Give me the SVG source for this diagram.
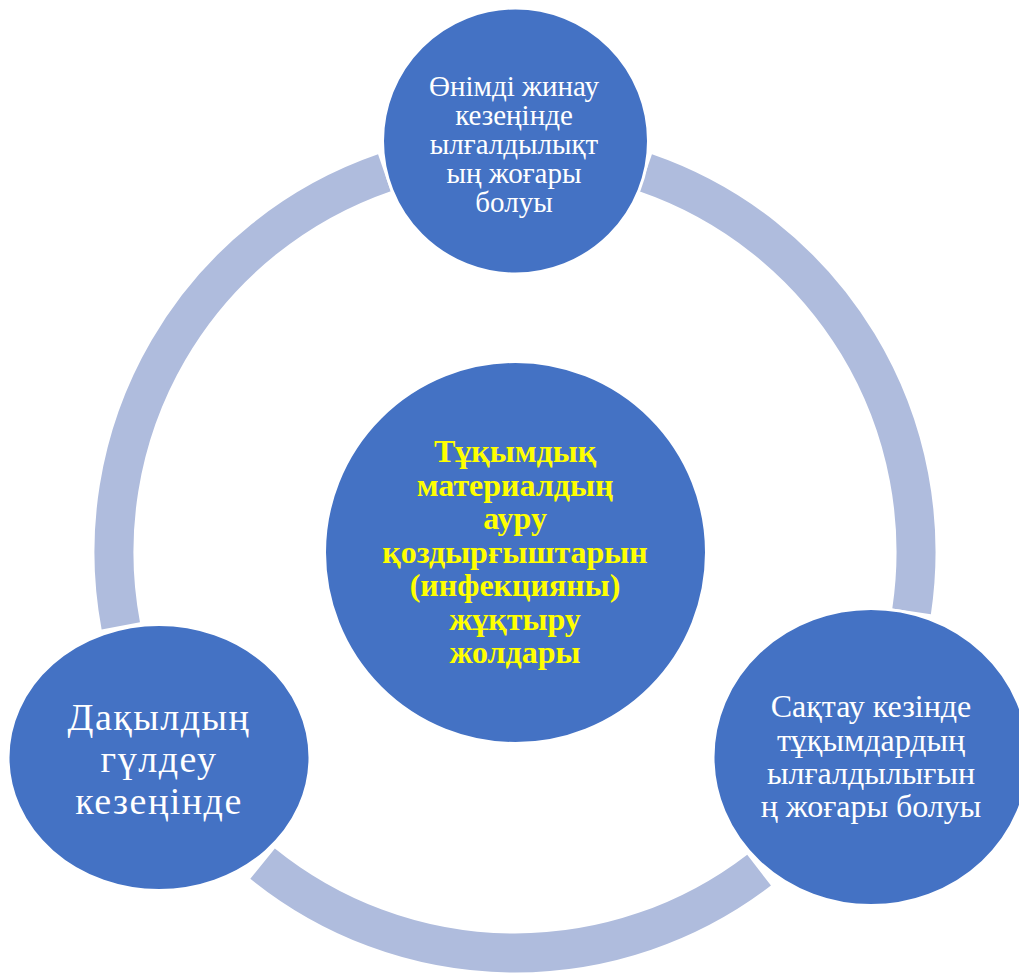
<svg xmlns="http://www.w3.org/2000/svg" width="1019" height="973" viewBox="0 0 1019 973">
<style>
.ring{fill:none;stroke:#AFBCDD;stroke-width:39;stroke-linecap:butt}
.node{fill:#4472C4;stroke:#FFFFFF;stroke-width:3}
.t{font-family:"Liberation Serif","Times New Roman",serif;fill:#FFFFFF;text-anchor:middle}
.c{font-family:"Liberation Serif","Times New Roman",serif;fill:#FFFF00;font-weight:bold;text-anchor:middle;font-size:32px}
</style>
<rect width="1019" height="973" fill="#FFFFFF"/>
<g id="connectors">
<path class="ring" d="M 120.8 625.8 A 401 401 0 0 1 384.4 172.8"/>
<path class="ring" d="M 645.6 172.8 A 401 401 0 0 1 911.6 611.3"/>
<path class="ring" d="M 759.1 870.1 A 401 401 0 0 1 262.6 863.6"/>
</g>
<g id="center">
<circle class="node" cx="515.5" cy="552.5" r="191"/>
<text class="c"><tspan x="515" y="462">Тұқымдық</tspan><tspan x="515" y="496">материалдың</tspan><tspan x="515" y="529">ауру</tspan><tspan x="515" y="563">қоздырғыштарын</tspan><tspan x="515" y="596">(инфекцияны)</tspan><tspan x="515" y="630">жұқтыру</tspan><tspan x="515" y="663">жолдары</tspan></text>
</g>
<g id="node-top">
<circle class="node" cx="515.5" cy="141" r="133"/>
<text class="t" font-size="29"><tspan x="514" y="96">Өнімді жинау</tspan><tspan x="514" y="125">кезеңінде</tspan><tspan x="514" y="154">ылғалдылықт</tspan><tspan x="514" y="183">ың жоғары</tspan><tspan x="514" y="212">болуы</tspan></text>
</g>
<g id="node-left">
<ellipse class="node" cx="159" cy="757.5" rx="151" ry="133"/>
<text class="t" font-size="38" letter-spacing="1.5"><tspan x="159" y="730">Дақылдың</tspan><tspan x="159" y="772">гүлдеу</tspan><tspan x="159" y="814">кезеңінде</tspan></text>
</g>
<g id="node-right">
<ellipse class="node" cx="871" cy="757" rx="158" ry="148.5"/>
<text class="t" font-size="32"><tspan x="871" y="717">Сақтау кезінде</tspan><tspan x="871" y="751">тұқымдардың</tspan><tspan x="871" y="784">ылғалдылығын</tspan><tspan x="871" y="817">ң жоғары болуы</tspan></text>
</g>
</svg>
